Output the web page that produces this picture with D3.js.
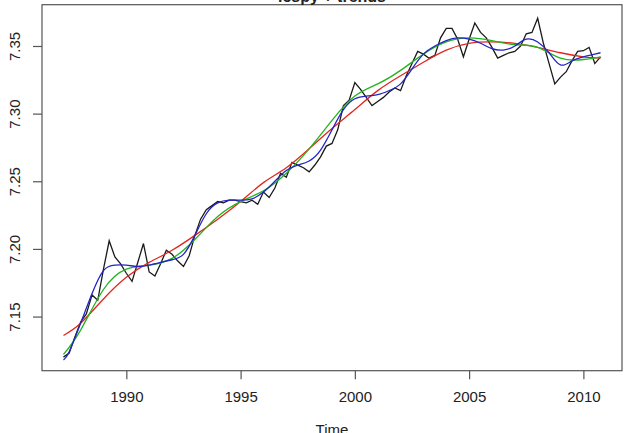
<!DOCTYPE html>
<html><head><meta charset="utf-8">
<script src="https://cdn.jsdelivr.net/npm/d3@7/dist/d3.min.js"></script>
<style>body{margin:0;background:#fff;overflow:hidden}svg{display:block}</style>
</head><body><svg id="chart" width="632" height="433"></svg>
<script>
// ---- data ----
const chartTitle = "lcspy + trends";
const xAxisLabel = "Time";
const tsStart = 1987.25;
const tsFrequency = 4;
const lcspy = [
  7.120, 7.123, 7.135,
  7.146, 7.152, 7.166, 7.162,
  7.185, 7.206, 7.194, 7.189,
  7.182, 7.176, 7.190, 7.204,
  7.183, 7.180, 7.189, 7.199,
  7.196, 7.191, 7.187, 7.195,
  7.210, 7.222, 7.229, 7.232,
  7.235, 7.234, 7.236, 7.236,
  7.235, 7.234, 7.236, 7.233,
  7.242, 7.238, 7.245, 7.256,
  7.253, 7.264, 7.262, 7.260,
  7.257, 7.262, 7.268, 7.276,
  7.278, 7.288, 7.306, 7.310,
  7.323, 7.318, 7.312, 7.306,
  7.309, 7.312, 7.316, 7.319,
  7.317, 7.328, 7.337, 7.346,
  7.344, 7.341, 7.343, 7.356,
  7.363, 7.363, 7.355, 7.342,
  7.355, 7.367, 7.360, 7.356,
  7.349, 7.341, 7.343, 7.345,
  7.346, 7.350, 7.359, 7.360,
  7.3705, 7.352, 7.337, 7.322,
  7.327, 7.331, 7.339, 7.346,
  7.3465, 7.349, 7.337, 7.342
];
const redTimes = [1987.25,1988,1989,1990,1991,1992,1993,1994,1995,1996,1997,1998,1999,2000,2001,2002,2003,2004,2005,2006,2007,2008,2009,2010,2010.75];
const redTrend = [7.136,7.145,7.163,7.179,7.190,7.199,7.210,7.222,7.235,7.249,7.260,7.274,7.289,7.303,7.317,7.328,7.338,7.347,7.352,7.353,7.352,7.349,7.345,7.342,7.341];
const greenTimes = [1987.25,1988,1989,1990,1991,1992,1993,1994,1995,1996,1997,1998,1999,2000,2001,2002,2003,2004,2005,2006,2007,2008,2009,2010,2010.75];
const greenTrend = [7.122,7.140,7.170,7.185,7.188,7.193,7.207,7.224,7.235,7.243,7.256,7.274,7.295,7.313,7.322,7.332,7.344,7.353,7.356,7.354,7.351,7.349,7.341,7.340,7.342];
const blueTimes = [1987.25,1987.5,1988,1988.5,1989,1989.5,1990,1990.5,1991,1991.5,1992,1992.5,1993,1993.5,1994,1994.5,1995,1995.5,1996,1996.5,1997,1997.5,1998,1998.5,1999,1999.5,2000,2000.5,2001,2001.5,2002,2002.5,2003,2003.5,2004,2004.5,2005,2005.5,2006,2006.5,2007,2007.5,2008,2008.5,2009,2009.5,2010,2010.5,2010.75];
const blueTrend = [7.118,7.124,7.145,7.167,7.184,7.188,7.188,7.187,7.188,7.190,7.192,7.196,7.210,7.226,7.234,7.236,7.236,7.237,7.242,7.250,7.258,7.262,7.265,7.273,7.288,7.303,7.311,7.313,7.314,7.317,7.322,7.333,7.344,7.350,7.354,7.356,7.355,7.352,7.348,7.347,7.350,7.355,7.353,7.345,7.336,7.339,7.342,7.344,7.345];
const xTicks = [1990, 1995, 2000, 2005, 2010];
const yTicks = [7.15, 7.20, 7.25, 7.30, 7.35];

// ---- layout ----
const plot = {left: 42, right: 622, top: 4.7, bottom: 370.7};
const svg = d3.select("#chart");
const font = "'Liberation Sans', Arial, sans-serif";

const times = lcspy.map((_, i) => tsStart + i / tsFrequency);
const xExt = d3.extent(times), yExt = d3.extent(lcspy);
const xPad = (xExt[1] - xExt[0]) * 0.04, yPad = (yExt[1] - yExt[0]) * 0.04;
const x = d3.scaleLinear().domain([xExt[0] - xPad, xExt[1] + xPad]).range([plot.left, plot.right]);
const y = d3.scaleLinear().domain([yExt[0] - yPad, yExt[1] + yPad]).range([plot.bottom, plot.top]);

const g = svg.append("g");
svg.append("clipPath").attr("id", "clip").append("rect")
  .attr("x", plot.left).attr("y", plot.top)
  .attr("width", plot.right - plot.left).attr("height", plot.bottom - plot.top);

const lineStraight = d3.line().x(d => x(d[0])).y(d => y(d[1]));
const lineSmooth = d3.line().x(d => x(d[0])).y(d => y(d[1])).curve(d3.curveNatural);

const lines = g.append("g").attr("clip-path", "url(#clip)").attr("fill", "none").attr("stroke-width", 1.3);
lines.append("path").attr("d", lineStraight(times.map((t, i) => [t, lcspy[i]]))).attr("stroke", "#1a1a1a");
lines.append("path").attr("d", lineSmooth(redTimes.map((t, i) => [t, redTrend[i]]))).attr("stroke", "#e3261f");
lines.append("path").attr("d", lineSmooth(greenTimes.map((t, i) => [t, greenTrend[i]]))).attr("stroke", "#22b41e");
lines.append("path").attr("d", lineSmooth(blueTimes.map((t, i) => [t, blueTrend[i]]))).attr("stroke", "#2424c8");

// box
g.append("rect").attr("x", plot.left).attr("y", plot.top)
  .attr("width", plot.right - plot.left).attr("height", plot.bottom - plot.top)
  .attr("fill", "none").attr("stroke", "#555").attr("stroke-width", 1.2);

// x axis
const xAxis = d3.axisBottom(x).tickValues(xTicks).tickFormat(d3.format("d")).tickSize(8.5).tickPadding(12);
const xg = g.append("g").attr("transform", `translate(0,${plot.bottom})`).call(xAxis);
xg.select(".domain").remove();
xg.selectAll("line").attr("stroke", "#555").attr("stroke-width", 1.2);
xg.selectAll("text").attr("font-family", font).attr("font-size", 15).attr("fill", "#222");

// y axis
const yAxis = d3.axisLeft(y).tickValues(yTicks).tickFormat(d3.format(".2f")).tickSize(9).tickPadding(10);
const yg = g.append("g").attr("transform", `translate(${plot.left},0)`).call(yAxis);
yg.select(".domain").remove();
yg.selectAll("line").attr("stroke", "#555").attr("stroke-width", 1.2);
yg.selectAll("text")
  .attr("font-family", font).attr("font-size", 15).attr("fill", "#222")
  .attr("x", 0).attr("y", 0).attr("dy", null)
  .attr("text-anchor", "middle")
  .attr("transform", `translate(${19.5 - plot.left},0) rotate(-90)`);

// titles
svg.append("text").attr("x", (plot.left + plot.right) / 2).attr("y", 2)
  .attr("text-anchor", "middle").attr("font-family", font).attr("font-size", 16)
  .attr("font-weight", "bold").attr("fill", "#222").text(chartTitle);
svg.append("text").attr("x", (plot.left + plot.right) / 2).attr("y", 435)
  .attr("text-anchor", "middle").attr("font-family", font).attr("font-size", 15)
  .attr("fill", "#222").text(xAxisLabel);
</script></body></html>
